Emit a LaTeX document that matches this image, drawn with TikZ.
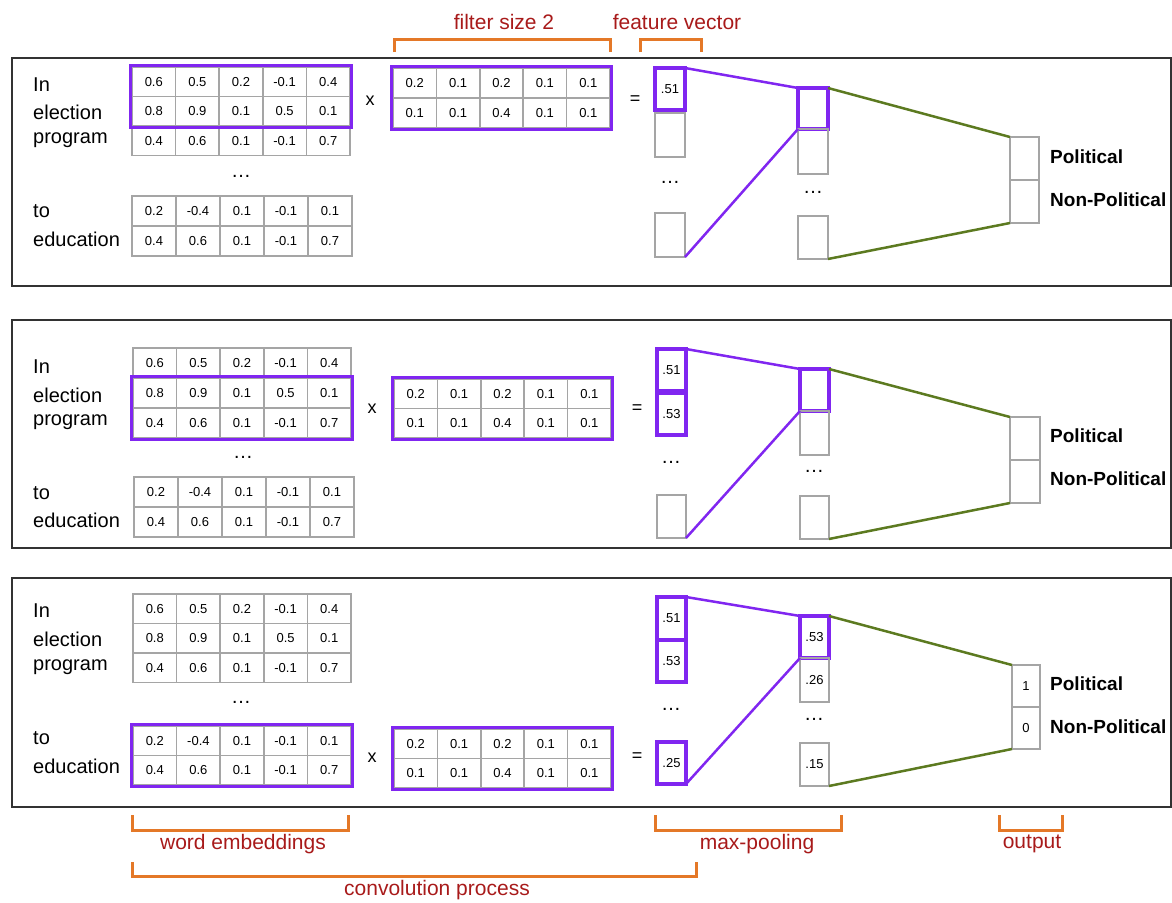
\documentclass[tikz,border=0pt]{standalone}
\usepackage{fontspec}
\setmainfont{Liberation Sans}
\usetikzlibrary{calc}
\definecolor{hlc}{RGB}{128,38,240}
\definecolor{cellgray}{RGB}{165,165,165}
\definecolor{grn}{RGB}{92,122,32}
\definecolor{brkc}{RGB}{228,120,40}
\definecolor{lblred}{RGB}{168,26,26}
\definecolor{framec}{RGB}{50,50,50}
% name, x, y, w, h, values
\newcommand{\mrow}[6]{\foreach \v [count=\i] in {#6} {\node[cell, minimum width=#4, minimum height=#5] (#1-\i) at ({#2+(\i-1)*#4}, #3) {\v};}}
\begin{document}
\begin{tikzpicture}[x=1pt,y=-1pt,
  cell/.style={draw=cellgray,line width=1.5pt,inner sep=0pt,outer sep=0pt,anchor=north west,font=\fontsize{13}{13}\selectfont},
  hlbox/.style={draw=hlc,line width=3.5pt},
  word/.style={anchor=west,inner sep=0pt,font=\fontsize{20}{20}\selectfont},
  cls/.style={anchor=west,inner sep=0pt,font=\fontsize{19}{19}\selectfont\bfseries},
  op/.style={inner sep=0pt,font=\fontsize{18}{18}\selectfont},
  dots/.style={inner sep=0pt,font=\fontsize{20}{20}\selectfont},
  panel/.style={draw=framec,line width=2pt},
  purp/.style={draw=hlc,line width=2.5pt},
  green/.style={draw=grn,line width=2.5pt},
  brk/.style={draw=brkc,line width=3pt},
  lbl/.style={inner sep=0pt,text=lblred,font=\fontsize{21}{21}\selectfont}
]
\useasboundingbox (0,0) rectangle (1172,902);

% ---------------- frames
\draw[panel] (12,58) rectangle (1171,286);
\draw[panel] (12,320) rectangle (1171,548);
\draw[panel] (12,578) rectangle (1171,807);

% ================= PANEL 1
\node[word] (a-w1) at (33,85) {In};
\node[word] (a-w2) at (33,112) {election};
\node[word] (a-w3) at (33,140) {program};
\node[word] (a-w4) at (33,211) {to};
\node[word] (a-w5) at (33,239) {education};
\mrow{a-r1}{132}{67}{43.6}{29.5}{0.6,0.5,0.2,-0.1,0.4}
\mrow{a-r2}{132}{96.5}{43.6}{29.5}{0.8,0.9,0.1,0.5,0.1}
\mrow{a-r3}{132}{126}{43.6}{29.5}{0.4,0.6,0.1,-0.1,0.7}
\node[dots] (a-d1) at (241,176) {…};
\mrow{a-r4}{132}{196}{44}{30}{0.2,-0.4,0.1,-0.1,0.1}
\mrow{a-r5}{132}{226}{44}{30}{0.4,0.6,0.1,-0.1,0.7}
\draw[hlbox] ($(a-r1-1.north west)+(-1.5,-1.5)$) rectangle ($(a-r2-5.south east)+(1.5,1.5)$);
\node[op] (a-x) at (370,101) {x};
\mrow{a-k1}{393}{68}{43.4}{30}{0.2,0.1,0.2,0.1,0.1}
\mrow{a-k2}{393}{98}{43.4}{30}{0.1,0.1,0.4,0.1,0.1}
\draw[hlbox] ($(a-k1-1.north west)+(-1.5,-1.5)$) rectangle ($(a-k2-5.south east)+(1.5,1.5)$);
\node[op] (a-eq) at (635,100) {=};
\node[cell,hlbox,minimum width=30,minimum height=42] (a-f1) at (655,68) {.51};
\node[cell,minimum width=30,minimum height=44] (a-f2) at (655,113) {};
\node[dots] (a-d2) at (670,182) {…};
\node[cell,minimum width=30,minimum height=44] (a-f3) at (655,213) {};
\node[cell,hlbox,minimum width=30,minimum height=41] (a-p1) at (798,88) {};
\node[cell,minimum width=30,minimum height=45] (a-p2) at (798,129) {};
\node[dots] (a-d3) at (813,192) {…};
\node[cell,minimum width=30,minimum height=43] (a-p3) at (798,216) {};
\node[cell,minimum width=29,minimum height=43] (a-o1) at (1010,137) {};
\node[cell,minimum width=29,minimum height=43] (a-o2) at (1010,180) {};
\node[cls] (a-c1) at (1050,157) {Political};
\node[cls] (a-c2) at (1050,200) {Non-Political};
\draw[purp] (a-f1.north east) -- (a-p1.north west);
\draw[purp] (a-f3.south east) -- (a-p1.south west);
\draw[green] (a-p1.north east) -- (a-o1.north west);
\draw[green] (a-p3.south east) -- (a-o2.south west);

% ================= PANEL 2
\node[word] (b-w1) at (33,367) {In};
\node[word] (b-w2) at (33,395) {election};
\node[word] (b-w3) at (33,422) {program};
\node[word] (b-w4) at (33,493) {to};
\node[word] (b-w5) at (33,520) {education};
\mrow{b-r1}{133}{348}{43.6}{30}{0.6,0.5,0.2,-0.1,0.4}
\mrow{b-r2}{133}{378}{43.6}{30}{0.8,0.9,0.1,0.5,0.1}
\mrow{b-r3}{133}{408}{43.6}{30}{0.4,0.6,0.1,-0.1,0.7}
\node[dots] (b-d1) at (243,457) {…};
\mrow{b-r4}{134}{477}{44}{30}{0.2,-0.4,0.1,-0.1,0.1}
\mrow{b-r5}{134}{507}{44}{30}{0.4,0.6,0.1,-0.1,0.7}
\draw[hlbox] ($(b-r2-1.north west)+(-1.5,-1.5)$) rectangle ($(b-r3-5.south east)+(1.5,1.5)$);
\node[op] (b-x) at (372,409) {x};
\mrow{b-k1}{394}{379}{43.4}{29.5}{0.2,0.1,0.2,0.1,0.1}
\mrow{b-k2}{394}{408.5}{43.4}{29.5}{0.1,0.1,0.4,0.1,0.1}
\draw[hlbox] ($(b-k1-1.north west)+(-1.5,-1.5)$) rectangle ($(b-k2-5.south east)+(1.5,1.5)$);
\node[op] (b-eq) at (637,409) {=};
\node[cell,hlbox,minimum width=29,minimum height=42] (b-f1) at (657,349) {.51};
\node[cell,hlbox,minimum width=29,minimum height=42] (b-f2) at (657,393) {.53};
\node[dots] (b-d2) at (671,462) {…};
\node[cell,minimum width=29,minimum height=43] (b-f3) at (657,495) {};
\node[cell,hlbox,minimum width=29,minimum height=42] (b-p1) at (800,369) {};
\node[cell,minimum width=29,minimum height=44] (b-p2) at (800,411) {};
\node[dots] (b-d3) at (814,471) {…};
\node[cell,minimum width=29,minimum height=43] (b-p3) at (800,496) {};
\node[cell,minimum width=30,minimum height=43] (b-o1) at (1010,417) {};
\node[cell,minimum width=30,minimum height=43] (b-o2) at (1010,460) {};
\node[cls] (b-c1) at (1050,436) {Political};
\node[cls] (b-c2) at (1050,479) {Non-Political};
\draw[purp] (b-f1.north east) -- (b-p1.north west);
\draw[purp] (b-f3.south east) -- (b-p1.south west);
\draw[green] (b-p1.north east) -- (b-o1.north west);
\draw[green] (b-p3.south east) -- (b-o2.south west);

% ================= PANEL 3
\node[word] (c-w1) at (33,611) {In};
\node[word] (c-w2) at (33,639) {election};
\node[word] (c-w3) at (33,667) {program};
\node[word] (c-w4) at (33,738) {to};
\node[word] (c-w5) at (33,766) {education};
\mrow{c-r1}{133}{594}{43.6}{29.5}{0.6,0.5,0.2,-0.1,0.4}
\mrow{c-r2}{133}{623.5}{43.6}{29.5}{0.8,0.9,0.1,0.5,0.1}
\mrow{c-r3}{133}{653}{43.6}{29.5}{0.4,0.6,0.1,-0.1,0.7}
\node[dots] (c-d1) at (241,702) {…};
\mrow{c-r4}{133}{726}{43.6}{29.5}{0.2,-0.4,0.1,-0.1,0.1}
\mrow{c-r5}{133}{755.5}{43.6}{29.5}{0.4,0.6,0.1,-0.1,0.7}
\draw[hlbox] ($(c-r4-1.north west)+(-1.5,-1.5)$) rectangle ($(c-r5-5.south east)+(1.5,1.5)$);
\node[op] (c-x) at (372,758) {x};
\mrow{c-k1}{394}{729}{43.4}{29.5}{0.2,0.1,0.2,0.1,0.1}
\mrow{c-k2}{394}{758.5}{43.4}{29.5}{0.1,0.1,0.4,0.1,0.1}
\draw[hlbox] ($(c-k1-1.north west)+(-1.5,-1.5)$) rectangle ($(c-k2-5.south east)+(1.5,1.5)$);
\node[op] (c-eq) at (637,757) {=};
\node[cell,hlbox,minimum width=29,minimum height=43] (c-f1) at (657,597) {.51};
\node[cell,hlbox,minimum width=29,minimum height=42] (c-f2) at (657,640) {.53};
\node[dots] (c-d2) at (671,709) {…};
\node[cell,hlbox,minimum width=29,minimum height=42] (c-f3) at (657,742) {.25};
\node[cell,hlbox,minimum width=29,minimum height=42] (c-p1) at (800,616) {.53};
\node[cell,minimum width=29,minimum height=44] (c-p2) at (800,658) {.26};
\node[dots] (c-d3) at (814,719) {…};
\node[cell,minimum width=29,minimum height=43] (c-p3) at (800,743) {.15};
\node[cell,minimum width=28,minimum height=42] (c-o1) at (1012,665) {1};
\node[cell,minimum width=28,minimum height=42] (c-o2) at (1012,707) {0};
\node[cls] (c-c1) at (1050,684) {Political};
\node[cls] (c-c2) at (1050,727) {Non-Political};
\draw[purp] (c-f1.north east) -- (c-p1.north west);
\draw[purp] (c-f3.south east) -- (c-p1.south west);
\draw[green] (c-p1.north east) -- (c-o1.north west);
\draw[green] (c-p3.south east) -- (c-o2.south west);

% ================= brackets and labels
\draw[brk] (394,52) -- (394,39) -- (610,39) -- (610,52);
\node[lbl] (l-fs) at (504,22) {filter size 2};
\draw[brk] (640,52) -- (640,39) -- (701,39) -- (701,52);
\node[lbl] (l-fv) at (677,22) {feature vector};
\draw[brk] (132,815) -- (132,830) -- (348,830) -- (348,815);
\node[lbl] (l-we) at (243,844) {word embeddings};
\draw[brk] (655,815) -- (655,830) -- (841,830) -- (841,815);
\node[lbl] (l-mp) at (757,844) {max-pooling};
\draw[brk] (999,815) -- (999,830) -- (1062,830) -- (1062,815);
\node[lbl] (l-out) at (1032,844) {output};
\draw[brk] (132,862) -- (132,876) -- (696,876) -- (696,862);
\node[lbl] (l-cp) at (437,890) {convolution process};
\end{tikzpicture}
\end{document}
